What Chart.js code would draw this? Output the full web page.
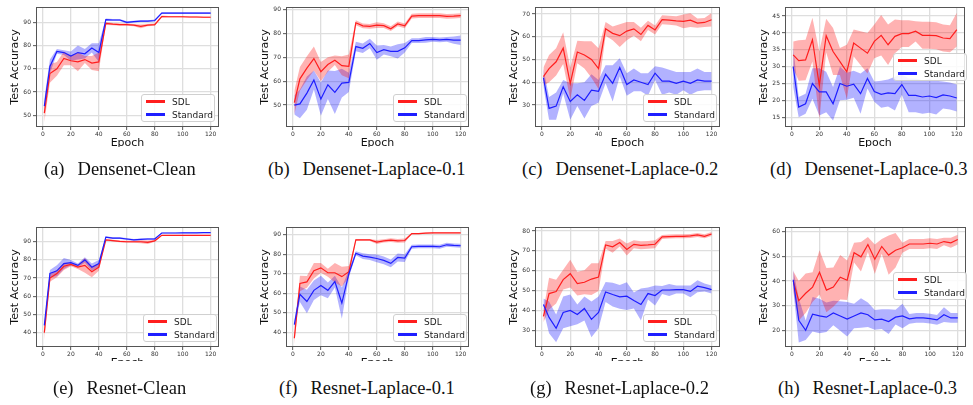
<!DOCTYPE html>
<html>
<head>
<meta charset="utf-8">
<script src="https://cdn.jsdelivr.net/npm/chart.js@4.4.1/dist/chart.umd.min.js"></script>
<style>
  body { margin: 0; background: #fff; width: 973px; height: 405px; position: relative; overflow: hidden; }
  .wrap { position: absolute; overflow: hidden; }
  .legend { position: absolute; width: 72px; height: 26px; border: 1px solid #d0d0d0; border-radius: 3px;
            background: rgba(255,255,255,0.85); font-family: "DejaVu Sans", sans-serif; font-size: 9px; color: #222; }
  .legend .row { position: absolute; left: 4px; height: 12px; line-height: 12px; white-space: nowrap; }
  .legend .sw { display: inline-block; width: 19px; height: 3px; vertical-align: middle; margin-right: 7px; position: relative; top: -1px; }
  .caption { position: absolute; font-family: "Liberation Serif", "Times New Roman", serif; font-size: 18.5px; color: #111; white-space: nowrap; }
  .caption span { margin-right: 13px; }
</style>
</head>
<body>
<script>
'use strict';

const epochs = [1, 5, 10, 15, 20, 25, 30, 35, 40, 45, 50, 55, 60, 65, 70, 75, 80, 85, 90, 95, 100, 105, 110, 115, 120];
const xTicks = [0, 20, 40, 60, 80, 100, 120];
const seriesNames = ['SDL', 'Standard'];

// (a) Densenet-Clean
const denseCleanSDL = [51, 68, 70, 74.5, 73.5, 73, 74, 72.5, 73, 89.5, 89.2, 89, 89, 88.8, 88.3, 88.8, 89, 92.5, 92.4, 92.4, 92.4, 92.3, 92.3, 92.2, 92.2];
const denseCleanSDLSpread = [4, 4, 3, 3, 2, 4, 1.5, 3, 4, 0.6, 0.5, 0.5, 0.5, 0.5, 0.8, 0.5, 0.5, 0.4, 0.3, 0.3, 0.3, 0.3, 0.3, 0.3, 0.3];
const denseCleanStd = [54, 71, 77.5, 77, 75.5, 77, 76.5, 79, 77, 91.2, 91, 91, 90, 90.3, 90.5, 90.5, 90.8, 94, 94, 94, 94, 94, 94, 94, 94];
const denseCleanStdSpread = [3, 3, 1, 1, 2, 3, 2, 2, 4, 0.5, 0.4, 0.4, 0.5, 0.4, 0.4, 0.4, 0.4, 0.3, 0.3, 0.3, 0.3, 0.3, 0.3, 0.3, 0.3];
const denseCleanYTicks = [50, 60, 70, 80, 90];

// (b) Densenet-Laplace-0.1
const dense01SDL = [51, 61, 65.5, 69.5, 64, 67, 68.8, 66.5, 66.2, 84.5, 83.2, 83, 83.5, 83.3, 82, 84, 83.2, 87.3, 87.5, 87.5, 87.5, 87.5, 87.2, 87.3, 87.5];
const dense01SDLSpread = [5, 5, 5, 5, 4, 3, 2, 4, 5, 1, 1, 1, 1.2, 1, 1, 1, 1, 1, 1, 1, 1, 1, 1, 1, 1];
const dense01Std = [50, 50.5, 55, 60.5, 52.5, 58.5, 55.3, 59.2, 59.5, 74.5, 73.8, 75.8, 72, 73.2, 72.5, 72.5, 74, 77, 77, 77.3, 77.5, 77.3, 77.5, 77.2, 77.2];
const dense01StdSpread = [4, 6, 7, 4, 7, 6, 9, 6, 4, 2, 2, 2, 3, 2, 2, 3, 2, 1, 1, 1.2, 1, 1, 1, 1.5, 2];
const dense01YTicks = [50, 60, 70, 80, 90];

// (c) Densenet-Laplace-0.2
const dense02SDL = [42.5, 46, 49, 55, 39.5, 53.3, 52, 50, 46, 63.5, 61.5, 60.5, 62.5, 63.5, 61, 65, 63, 67.5, 67.3, 67, 66.8, 67.3, 66, 66.3, 67.5];
const dense02SDLSpread = [4, 6, 6, 7, 7, 5, 6, 8, 9, 3, 3, 5, 4, 3, 3, 2, 2, 2, 2, 2, 3, 3, 2, 2, 3];
const dense02Std = [42, 28.5, 29.5, 38, 31.5, 34.5, 32, 36.5, 36, 43.5, 39.5, 46.5, 39, 41, 40, 39, 44, 40.5, 40.5, 39.5, 40.5, 39.5, 41, 40.5, 40.5];
const dense02StdSpread = [4, 5, 6, 3, 8, 5, 8, 7, 5, 4, 8, 4, 5, 5, 4, 5, 3, 6, 5, 5, 4, 5, 5, 4, 4];
const dense02YTicks = [30, 40, 50, 60, 70];

// (d) Densenet-Laplace-0.3
const dense03SDL = [33.5, 31.8, 32, 38, 24.5, 39.2, 34.5, 31.5, 28.5, 37, 35.5, 34, 37.5, 39.3, 36.5, 39, 39.8, 39.8, 40.5, 39.3, 39.3, 39.2, 38.5, 38.3, 41];
const dense03SDLSpread = [4, 6, 6, 6.5, 10, 5, 7, 4, 8, 4, 5, 6, 5, 6, 6, 5, 4, 4, 3, 4, 4, 4, 4, 4, 5];
const dense03Std = [30, 18, 19, 25, 22.5, 22.5, 19, 25, 24.2, 24.8, 22, 26.5, 22.6, 21.8, 22.2, 22, 24.7, 21.5, 21.5, 21, 21.3, 20.8, 21.6, 21.3, 20.7];
const dense03StdSpread = [6, 3, 3, 4.5, 7, 6, 5, 5, 4, 4, 6, 3, 3, 4, 4, 5, 3, 5, 5, 5, 5, 5, 4, 4, 4];
const dense03YTicks = [15, 20, 25, 30, 35, 40, 45];

// (e) Resnet-Clean
const resCleanSDL = [40, 70, 72.5, 76.5, 77.5, 76, 77, 73.5, 76, 91, 90.6, 90.2, 90, 90, 90, 89.7, 90.5, 93.5, 93.5, 93.5, 93.5, 93.5, 93.5, 93.5, 93.5];
const resCleanSDLSpread = [4, 2, 2, 2, 1, 1, 4, 3, 2, 0.5, 0.5, 0.5, 0.6, 0.6, 0.8, 1, 0.5, 0.3, 0.3, 0.3, 0.3, 0.3, 0.3, 0.3, 0.3];
const resCleanStd = [44, 72.5, 74, 78, 78.5, 77, 80, 76, 78, 92.5, 92, 92, 91.5, 91, 91.3, 91.5, 91.5, 94.8, 94.8, 94.8, 94.9, 94.9, 94.9, 95, 95];
const resCleanStdSpread = [1.5, 2, 3, 3, 1.5, 1, 1.5, 2, 2, 0.5, 0.5, 0.5, 0.5, 0.5, 0.5, 0.6, 0.5, 0.3, 0.3, 0.3, 0.3, 0.3, 0.3, 0.3, 0.3];
const resCleanYTicks = [40, 50, 60, 70, 80, 90];

// (f) Resnet-Laplace-0.1
const res01SDL = [37, 65, 65.8, 71.5, 73, 70.5, 70.5, 68.5, 71, 87.3, 87.3, 87.3, 86.2, 86.8, 87.2, 86.8, 87, 90.5, 90.5, 90.8, 90.9, 90.9, 90.9, 90.9, 90.9];
const res01SDLSpread = [3, 4, 3, 4, 2.5, 2, 5, 5, 3, 0.5, 0.5, 0.5, 1, 0.8, 1, 1, 1, 0.3, 0.3, 0.3, 0.3, 0.3, 0.3, 0.3, 0.3];
const res01Std = [44, 59.5, 55.8, 61.5, 64, 61.5, 66, 55, 70, 80.5, 79, 78.5, 77.8, 76.8, 75.3, 78.3, 78, 83.8, 84, 84, 84, 83.8, 84.8, 84.5, 84.3];
const res01StdSpread = [2, 4, 6, 5, 5, 4, 3, 8, 2, 1, 1.5, 1.5, 2, 2, 2, 2, 2, 1, 1, 1, 1, 1, 1, 1, 1];
const res01YTicks = [40, 50, 60, 70, 80, 90];

// (g) Resnet-Laplace-0.2
const res02SDL = [37, 48.5, 49.5, 55.5, 58.5, 53.5, 54.2, 55.8, 56.8, 73, 72, 74.2, 70.7, 73.3, 72.8, 73, 73.3, 77, 77.2, 77.3, 77.3, 77.5, 78, 77.3, 78.5];
const res02SDLSpread = [3, 8, 6, 5, 7, 6, 6, 8, 7, 2, 3, 2, 3, 2, 2, 2, 2, 1, 1, 1, 1, 1, 1, 1, 1];
const res02Std = [43, 36.5, 31, 39, 40, 38, 41, 35.5, 39, 49.3, 48, 46.8, 47.2, 45, 43, 48.5, 47.5, 50.3, 50.3, 50.5, 50.5, 49.6, 52.2, 51.5, 50.5];
const res02StdSpread = [3, 8, 7, 8, 8, 5, 6, 9, 8, 5, 6, 6, 7, 4, 8, 3, 5, 2, 3, 2, 2, 3, 3, 2, 2];
const res02YTicks = [30, 40, 50, 60, 70, 80];

// (h) Resnet-Laplace-0.3
const res03SDL = [40, 32, 35, 37.5, 43.5, 36.3, 37.5, 41.5, 40.3, 51.5, 49.8, 54.8, 48.8, 54, 50.5, 52.5, 53.5, 55, 55, 55, 55.3, 55, 56, 55.5, 56.8];
const res03SDLSpread = [4, 8, 8, 6, 9, 9, 8, 9, 8, 4, 6, 3, 6, 3, 8, 7, 2, 2, 2, 2, 2, 2, 1.5, 2, 2];
const res03Std = [40.5, 24, 20, 26.5, 25.8, 25.3, 27, 25.8, 24.5, 25.8, 27, 26.3, 24.2, 24.5, 23.5, 25.3, 25.8, 24.6, 25, 25, 24.7, 24.2, 26.3, 25, 25];
const res03StdSpread = [4, 9, 4, 7, 7, 6, 5, 6, 7, 5, 6, 5, 4, 4, 5, 3, 5, 2, 2, 2, 2, 2, 3, 2, 2];
const res03YTicks = [20, 30, 40, 50, 60];

const panels = [
  { tag: '(a)', name: 'Densenet-Clean', sdl: denseCleanSDL, sdlSp: denseCleanSDLSpread, std: denseCleanStd, stdSp: denseCleanStdSpread, yTicks: denseCleanYTicks,
    box: [36, 7, 219, 127], yRange: [45, 96.6], clip: 147, legend: [141, 94], cap: [44, 159] },
  { tag: '(b)', name: 'Densenet-Laplace-0.1', sdl: dense01SDL, sdlSp: dense01SDLSpread, std: dense01Std, stdSp: dense01StdSpread, yTicks: dense01YTicks,
    box: [286, 7, 469, 127], yRange: [40.8, 91.1], clip: 147, legend: [393, 94], cap: [268, 159] },
  { tag: '(c)', name: 'Densenet-Laplace-0.2', sdl: dense02SDL, sdlSp: dense02SDLSpread, std: dense02Std, stdSp: dense02StdSpread, yTicks: dense02YTicks,
    box: [535, 7, 720, 127], yRange: [20.3, 73.1], clip: 147, legend: [643, 94], cap: [522, 159] },
  { tag: '(d)', name: 'Densenet-Laplace-0.3', sdl: dense03SDL, sdlSp: dense03SDLSpread, std: dense03Std, stdSp: dense03StdSpread, yTicks: dense03YTicks,
    box: [785, 7, 965, 127], yRange: [12.1, 47.7], clip: 147, legend: [893, 53], cap: [770, 159] },
  { tag: '(e)', name: 'Resnet-Clean', sdl: resCleanSDL, sdlSp: resCleanSDLSpread, std: resCleanStd, stdSp: resCleanStdSpread, yTicks: resCleanYTicks,
    box: [36, 227, 219, 347], yRange: [32.1, 98.1], clip: 361, legend: [143, 314], cap: [53, 378] },
  { tag: '(f)', name: 'Resnet-Laplace-0.1', sdl: res01SDL, sdlSp: res01SDLSpread, std: res01Std, stdSp: res01StdSpread, yTicks: res01YTicks,
    box: [286, 227, 469, 347], yRange: [32.5, 93.9], clip: 361, legend: [393, 314], cap: [279, 378] },
  { tag: '(g)', name: 'Resnet-Laplace-0.2', sdl: res02SDL, sdlSp: res02SDLSpread, std: res02Std, stdSp: res02StdSpread, yTicks: res02YTicks,
    box: [535, 227, 720, 347], yRange: [21.6, 82], clip: 361, legend: [643, 314], cap: [530, 378] },
  { tag: '(h)', name: 'Resnet-Laplace-0.3', sdl: res03SDL, sdlSp: res03SDLSpread, std: res03Std, stdSp: res03StdSpread, yTicks: res03YTicks,
    box: [785, 227, 966, 347], yRange: [13.2, 61.9], clip: 361, legend: [893, 272], cap: [778, 378] }
];

const RED = 'rgb(255, 30, 30)';
const BLUE = 'rgb(30, 30, 255)';
const RED_BAND = 'rgba(255, 0, 0, 0.3)';
const BLUE_BAND = 'rgba(0, 0, 255, 0.3)';
const Y_AXIS_W = 31;
const X_AXIS_H = 27;
const PAD_TOP = 6;
const PAD_RIGHT = 6;

// frame around the plot area, like the matplotlib spines
const framePlugin = {
  id: 'frame',
  afterDraw(chart) {
    const a = chart.chartArea;
    const ctx = chart.ctx;
    ctx.save();
    ctx.strokeStyle = '#555';
    ctx.lineWidth = 1;
    ctx.strokeRect(a.left + 0.5, a.top + 0.5, a.right - a.left - 1, a.bottom - a.top - 1);
    ctx.restore();
  }
};

function toPoints(vals) {
  return epochs.map((e, i) => ({ x: e, y: vals[i] }));
}

function bandDatasets(mean, spread, color) {
  const lo = mean.map((v, i) => v - spread[i]);
  const hi = mean.map((v, i) => v + spread[i]);
  return [
    { data: toPoints(lo), borderWidth: 0, pointRadius: 0, fill: false, order: 3 },
    { data: toPoints(hi), borderWidth: 0, pointRadius: 0, fill: '-1', backgroundColor: color, order: 3 }
  ];
}

function addLegend(x, y) {
  const div = document.createElement('div');
  div.className = 'legend';
  div.style.left = x + 'px';
  div.style.top = y + 'px';
  div.innerHTML = `
    <div class="row" style="top:1px;"><span class="sw" style="background:${RED};"></span>${seriesNames[0]}</div>
    <div class="row" style="top:14px;"><span class="sw" style="background:${BLUE};"></span>${seriesNames[1]}</div>`;
  document.body.appendChild(div);
}

function addCaption(p) {
  const div = document.createElement('div');
  div.className = 'caption';
  div.style.left = p.cap[0] + 'px';
  div.style.top = p.cap[1] + 'px';
  div.innerHTML = `<span>${p.tag}</span>${p.name}`;
  document.body.appendChild(div);
}

function renderPanel(p) {
  const [L, T, R, B] = p.box;
  const left = L - Y_AXIS_W;
  const top = T - PAD_TOP;
  const width = R - left + PAD_RIGHT;
  const height = B + X_AXIS_H - top;

  const wrap = document.createElement('div');
  wrap.className = 'wrap';
  wrap.style.left = left + 'px';
  wrap.style.top = top + 'px';
  wrap.style.width = width + 'px';
  wrap.style.height = (p.clip - top) + 'px';
  const canvas = document.createElement('canvas');
  canvas.width = width;
  canvas.height = height;
  canvas.style.width = width + 'px';
  canvas.style.height = height + 'px';
  wrap.appendChild(canvas);
  document.body.appendChild(wrap);

  const tickFont = { family: 'DejaVu Sans', size: 6 };
  const titleFont = { family: 'DejaVu Sans', size: 11 };
  const grid = { color: '#dedede', lineWidth: 1.3, tickColor: '#555', tickLength: 3, tickWidth: 1 };

  new Chart(canvas.getContext('2d'), {
    type: 'line',
    data: {
      datasets: [
        ...bandDatasets(p.sdl, p.sdlSp, RED_BAND),
        ...bandDatasets(p.std, p.stdSp, BLUE_BAND),
        { label: seriesNames[0], data: toPoints(p.sdl), borderColor: RED, borderWidth: 1.2, pointRadius: 0, fill: false, order: 1 },
        { label: seriesNames[1], data: toPoints(p.std), borderColor: BLUE, borderWidth: 1.2, pointRadius: 0, fill: false, order: 0 }
      ]
    },
    options: {
      responsive: false,
      animation: false,
      devicePixelRatio: 1,
      layout: { padding: { top: PAD_TOP, right: PAD_RIGHT, left: 0, bottom: 0 } },
      plugins: {
        legend: { display: false },
        tooltip: { enabled: false },
        filler: { drawTime: 'beforeDatasetsDraw' }
      },
      scales: {
        x: {
          type: 'linear', min: -4.95, max: 125.95,
          grid: grid, border: { display: false },
          ticks: { font: tickFont, color: '#333', padding: 1, maxRotation: 0 },
          title: { display: true, text: 'Epoch', font: titleFont, color: '#111', padding: { top: 0, bottom: 4 } },
          afterBuildTicks: s => { s.ticks = xTicks.map(v => ({ value: v })); },
          afterFit: s => { s.height = X_AXIS_H; s.paddingLeft = 0; s.paddingRight = 0; }
        },
        y: {
          type: 'linear', min: p.yRange[0], max: p.yRange[1],
          grid: grid, border: { display: false },
          ticks: { font: tickFont, color: '#333', padding: 2 },
          title: { display: true, text: 'Test Accuracy', font: titleFont, color: '#111', padding: { top: 4, bottom: 0 } },
          afterBuildTicks: s => { s.ticks = p.yTicks.map(v => ({ value: v })); },
          afterFit: s => { s.width = Y_AXIS_W; s.paddingTop = 0; s.paddingBottom = 0; }
        }
      }
    },
    plugins: [framePlugin]
  });

  addLegend(p.legend[0], p.legend[1]);
  addCaption(p);
}

panels.forEach(renderPanel);
</script>
</body>
</html>
